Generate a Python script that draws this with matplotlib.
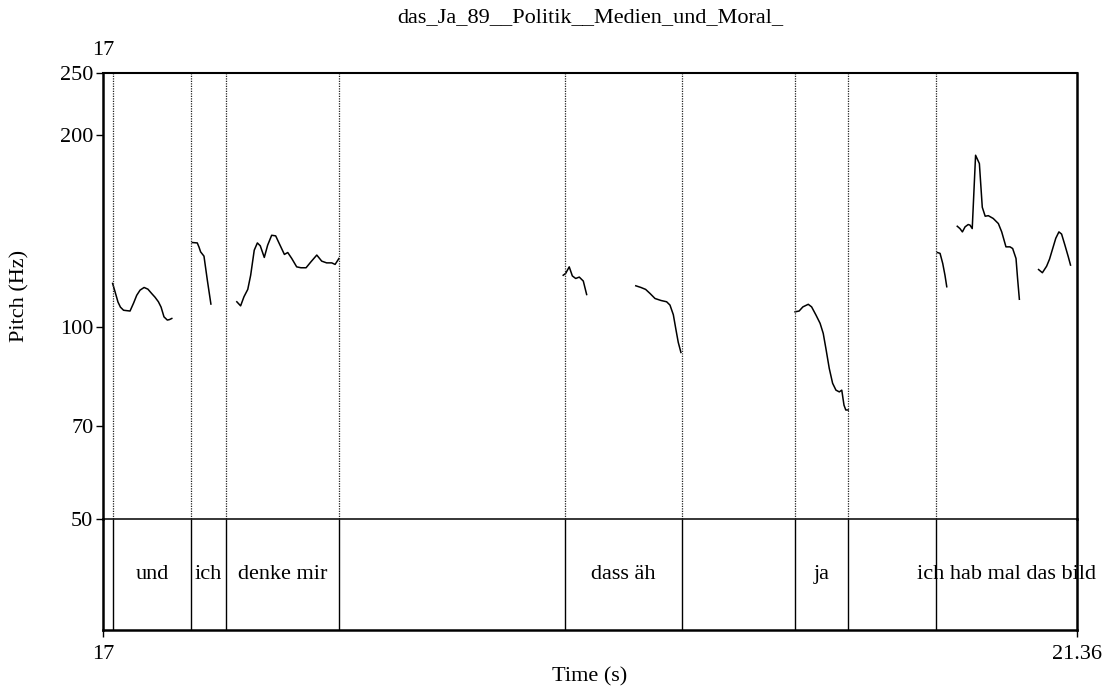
import matplotlib
matplotlib.use("Agg")
import matplotlib.pyplot as plt

plt.rcParams['font.family'] = ['Liberation Serif', 'DejaVu Serif']

# === Data ===
title = "das_Ja_89__Politik__Medien_und_Moral_"
t_start, t_end = 17.0, 21.36
pitch_ticks = [50, 70, 100, 200, 250]

# interval boundaries (s) and word labels of the text tier
boundaries = [17.043, 17.394, 17.552, 18.058, 19.068, 19.592, 20.098, 20.335, 20.729]
words = ["und", "ich", "denke mir", "", "dass äh", "", "ja", "", "ich hab mal das bild"]
word_starts = [17.043, 17.394, 17.552, 18.058, 19.068, 19.592, 20.098, 20.335, 20.729]
word_ends = [17.394, 17.552, 18.058, 19.068, 19.592, 20.098, 20.335, 20.729, 21.36]

# pitch contour segments: (time s, F0 Hz)
seg1_t = [17.043, 17.054, 17.067, 17.078, 17.092, 17.121, 17.137, 17.151, 17.166, 17.184,
          17.201, 17.218, 17.233, 17.248, 17.260, 17.273, 17.288, 17.298, 17.308]
seg1_f = [117.0, 113.5, 109.4, 107.4, 106.2, 105.9, 109.0, 112.1, 114.2, 115.3,
          114.6, 112.8, 111.3, 109.5, 107.4, 103.7, 102.5, 102.7, 103.1]

seg2_t = [17.400, 17.422, 17.430, 17.437, 17.452, 17.467, 17.483]
seg2_f = [135.6, 135.4, 133.3, 131.1, 129.1, 118.4, 108.6]

seg3_t = [17.599, 17.616, 17.631, 17.648, 17.661, 17.677, 17.691, 17.704, 17.722, 17.737,
          17.755, 17.773, 17.789, 17.812, 17.827, 17.845, 17.867, 17.886, 17.909, 17.931,
          17.957, 17.979, 18.001, 18.024, 18.039, 18.056]
seg3_f = [109.5, 107.9, 111.5, 114.5, 120.5, 131.9, 135.4, 134.0, 128.5, 134.3,
          139.2, 138.9, 135.1, 129.9, 130.8, 128.0, 124.2, 123.8, 123.8, 126.5,
          129.6, 126.8, 126.0, 126.0, 125.3, 128.0]

seg4_t = [19.060, 19.071, 19.087, 19.101, 19.116, 19.132, 19.150, 19.165]
seg4_f = [120.5, 121.3, 124.2, 120.2, 119.1, 119.7, 118.0, 112.4]

seg5_t = [19.385, 19.408, 19.429, 19.449, 19.471, 19.498, 19.523, 19.538, 19.553, 19.565,
          19.575, 19.587]
seg5_f = [116.0, 115.3, 114.5, 112.8, 110.8, 110.0, 109.5, 108.2, 104.5, 98.9,
          94.6, 91.2]

seg6_t = [20.098, 20.116, 20.133, 20.157, 20.172, 20.192, 20.210, 20.224, 20.236, 20.251,
          20.266, 20.281, 20.296, 20.307, 20.317, 20.325, 20.336]
seg6_f = [105.6, 105.9, 107.5, 108.5, 107.5, 104.3, 101.3, 97.7, 92.5, 86.1,
          81.6, 79.6, 79.1, 79.6, 75.4, 74.1, 74.1]

seg7_t = [20.735, 20.747, 20.759, 20.769, 20.777]
seg7_f = [130.8, 130.4, 125.7, 120.5, 115.6]

seg8_t = [20.824, 20.836, 20.847, 20.859, 20.873, 20.881, 20.891, 20.906, 20.923, 20.936,
          20.949, 20.963, 20.985, 21.008, 21.023, 21.042, 21.060, 21.072, 21.087, 21.094,
          21.102]
seg8_f = [143.8, 142.6, 140.9, 143.5, 144.7, 144.4, 142.6, 185.8, 180.3, 154.0,
          149.1, 149.4, 147.9, 145.2, 140.9, 133.5, 133.5, 132.7, 128.0, 119.1,
          110.5]

seg9_t = [21.188, 21.205, 21.224, 21.237, 21.249, 21.265, 21.279, 21.291, 21.306, 21.321,
          21.331]
seg9_f = [123.0, 121.6, 124.5, 127.7, 131.9, 137.7, 140.9, 139.8, 134.3, 128.8,
          125.0]

segments = [(seg1_t, seg1_f), (seg2_t, seg2_f), (seg3_t, seg3_f), (seg4_t, seg4_f),
            (seg5_t, seg5_f), (seg6_t, seg6_f), (seg7_t, seg7_f), (seg8_t, seg8_f),
            (seg9_t, seg9_f)]

# === Figure ===
W, H = 1105, 690
fig = plt.figure(figsize=(W / 100, H / 100), dpi=100)
left, right = 103, 1077
top_p, mid, bot = 73, 519, 630
ax_p = fig.add_axes([left / W, 1 - mid / H, (right - left) / W, (mid - top_p) / H])
ax_t = fig.add_axes([left / W, 1 - bot / H, (right - left) / W, (bot - mid) / H])
ax_t.patch.set_visible(False)  # don't cover the 50 Hz line

fs = 16

# pitch area
ax_p.set_yscale('log')
ax_p.set_xlim(t_start, t_end)
ax_p.set_ylim(50, 250)
for t, f in segments:
    ax_p.plot(t, f, color='black', lw=1.1)
ax_p.vlines(boundaries, 50, 250, colors='#222222', linestyles=(0, (1, 1)), lw=0.9)
ax_p.set_yticks(pitch_ticks)
ax_p.set_yticklabels([str(v) for v in pitch_ticks])
ax_p.minorticks_off()
ax_p.tick_params(axis='y', which='both', direction='out', length=5, width=1,
                 labelsize=fs, pad=2)
ax_p.set_xticks([])
ax_p.spines['left'].set_linewidth(1.8)
ax_p.spines['top'].set_linewidth(1.5)
ax_p.spines['right'].set_linewidth(1.8)
ax_p.spines['bottom'].set_linewidth(1.1)
ax_p.annotate("17", xy=(t_start, 250), xytext=(0, 16), textcoords='offset points',
              ha='center', va='center', fontsize=fs)

# text tier
ax_t.set_xlim(t_start, t_end)
ax_t.set_ylim(0, 1)
ax_t.vlines(boundaries, 0, 1, colors='black', lw=1.0)
for w, s, e in zip(words, word_starts, word_ends):
    if w:
        ax_t.text((s + e) / 2, 0.5, w, ha='center', va='center', fontsize=fs)
ax_t.set_yticks([])
ax_t.set_xticks([t_start, t_end])
ax_t.set_xticklabels(["17", "21.36"])
ax_t.tick_params(axis='x', direction='out', length=5, width=1, labelsize=fs, pad=6)
ax_t.spines['top'].set_visible(False)
ax_t.spines['left'].set_linewidth(1.8)
ax_t.spines['right'].set_linewidth(1.8)
ax_t.spines['bottom'].set_linewidth(1.8)

# title and axis labels, placed in figure pixels
cx = (left + right) / 2 / W
fig.text(cx, 1 - 18 / H, title, ha='center', va='center', fontsize=fs)
fig.text(cx, 1 - 677 / H, "Time (s)", ha='center', va='center', fontsize=fs)
fig.text(20 / W, 1 - (top_p + mid) / 2 / H, "Pitch (Hz)", ha='center', va='center',
         rotation=90, fontsize=fs)

fig.savefig("out.png", dpi=100)
